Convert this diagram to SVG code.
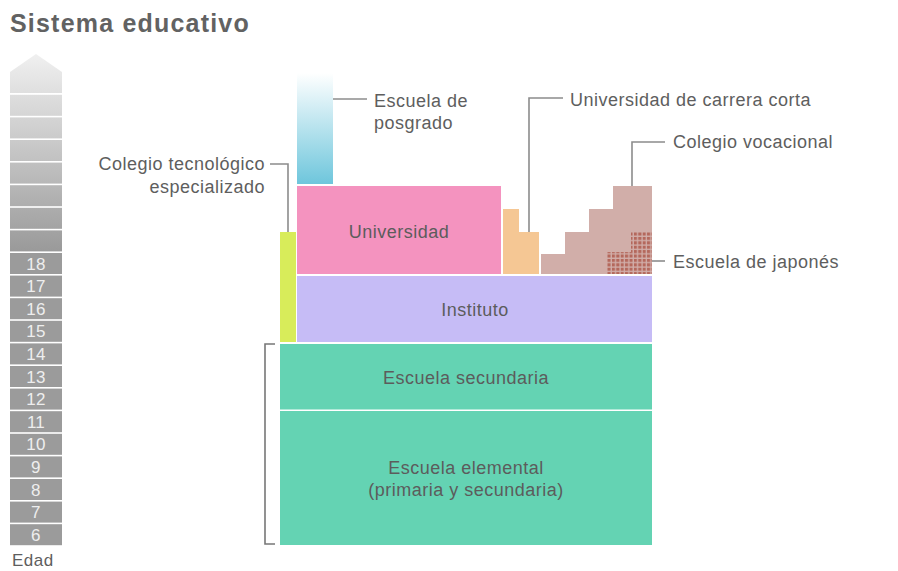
<svg xmlns="http://www.w3.org/2000/svg" width="898" height="571" viewBox="0 0 898 571">
<defs>
<style>
text{font-family:"Liberation Sans",Arial,sans-serif;}
.lbl{font-size:18px;fill:#5e5e5e;letter-spacing:0.5px;}
.blk{font-size:18px;fill:#5c5c5c;letter-spacing:0.5px;text-anchor:middle;}
.age{font-size:17px;fill:#eeeeee;text-anchor:middle;letter-spacing:0.3px;}
.row{fill:#9b9b9b;}
.lead{fill:none;stroke:#8c8c8c;stroke-width:1.6;}
</style>
<linearGradient id="fade" gradientUnits="userSpaceOnUse" x1="0" y1="54" x2="0" y2="253">
<stop offset="0" stop-color="#f0f0f0"/>
<stop offset="1" stop-color="#999999"/>
</linearGradient>
<linearGradient id="pos" x1="0" y1="0" x2="0" y2="1">
<stop offset="0" stop-color="#ffffff"/>
<stop offset="1" stop-color="#6ec6dc"/>
</linearGradient>
<pattern id="jp" patternUnits="userSpaceOnUse" x="607.5" y="232.5" width="4.4" height="4.4">
<rect x="0" y="0" width="3.1" height="3.1" fill="#b4685c"/>
</pattern>
</defs>
<rect width="898" height="571" fill="#ffffff"/>
<text x="10" y="32" font-size="25" font-weight="bold" fill="#626262" letter-spacing="1.2">Sistema educativo</text>

<g id="age-scale">
<polygon points="10,93 10,72 36,54 62,72 62,93" fill="url(#fade)"/>
<rect x="10" y="94.8" width="52" height="21" fill="url(#fade)"/>
<rect x="10" y="117.4" width="52" height="21" fill="url(#fade)"/>
<rect x="10" y="140" width="52" height="21" fill="url(#fade)"/>
<rect x="10" y="162.6" width="52" height="21" fill="url(#fade)"/>
<rect x="10" y="185.2" width="52" height="21" fill="url(#fade)"/>
<rect x="10" y="207.8" width="52" height="21" fill="url(#fade)"/>
<rect x="10" y="230.4" width="52" height="21" fill="url(#fade)"/>
<rect class="row" x="10" y="253" width="52" height="21"/>
<rect class="row" x="10" y="275.6" width="52" height="21"/>
<rect class="row" x="10" y="298.2" width="52" height="21"/>
<rect class="row" x="10" y="320.8" width="52" height="21"/>
<rect class="row" x="10" y="343.4" width="52" height="21"/>
<rect class="row" x="10" y="366" width="52" height="21"/>
<rect class="row" x="10" y="388.6" width="52" height="21"/>
<rect class="row" x="10" y="411.2" width="52" height="21"/>
<rect class="row" x="10" y="433.8" width="52" height="21"/>
<rect class="row" x="10" y="456.4" width="52" height="21"/>
<rect class="row" x="10" y="479" width="52" height="21"/>
<rect class="row" x="10" y="501.6" width="52" height="21"/>
<rect class="row" x="10" y="524.2" width="52" height="21"/>
<text class="age" x="36" y="269.5">18</text>
<text class="age" x="36" y="292.1">17</text>
<text class="age" x="36" y="314.7">16</text>
<text class="age" x="36" y="337.3">15</text>
<text class="age" x="36" y="359.9">14</text>
<text class="age" x="36" y="382.5">13</text>
<text class="age" x="36" y="405.1">12</text>
<text class="age" x="36" y="427.7">11</text>
<text class="age" x="36" y="450.3">10</text>
<text class="age" x="36" y="472.9">9</text>
<text class="age" x="36" y="495.5">8</text>
<text class="age" x="36" y="518.1">7</text>
<text class="age" x="36" y="540.7">6</text>
<text x="12" y="566" font-size="17" fill="#5e5e5e" letter-spacing="0.5">Edad</text>
</g>

<g id="connectors">
<polyline class="lead" points="333,99 367,99"/>
<polyline class="lead" points="270,164 288,164 288,232"/>
<polyline class="lead" points="563,98 529,98 529,232"/>
<polyline class="lead" points="665,142 632,142 632,186"/>
<polyline class="lead" points="650,261 665,261"/>
<polyline points="275,344 265,344 265,544 275,544" fill="none" stroke="#777777" stroke-width="1.6"/>
</g>

<g id="escuela-elemental">
<rect x="280" y="411" width="372" height="134" fill="#64d3b3"/>
<text class="blk" x="466" y="474">Escuela elemental</text>
<text class="blk" x="466" y="496">(primaria y secundaria)</text>
</g>
<g id="escuela-secundaria">
<rect x="280" y="344" width="372" height="65.5" fill="#64d3b3"/>
<text class="blk" x="466" y="384">Escuela secundaria</text>
</g>
<g id="instituto">
<rect x="297" y="276" width="355" height="66" fill="#c6bcf6"/>
<text class="blk" x="475" y="316">Instituto</text>
</g>
<g id="colegio-tecnologico">
<rect x="280" y="232" width="16" height="110" fill="#d8ec5a"/>
<text class="lbl" x="265" y="170" text-anchor="end">Colegio tecnológico</text>
<text class="lbl" x="265" y="192.5" text-anchor="end">especializado</text>
</g>
<g id="universidad">
<rect x="297" y="186" width="204" height="88" fill="#f493bf"/>
<text class="blk" x="399" y="238">Universidad</text>
</g>
<g id="escuela-posgrado">
<rect x="297" y="73" width="36" height="111" fill="url(#pos)"/>
<text class="lbl" x="374" y="107">Escuela de</text>
<text class="lbl" x="374" y="129">posgrado</text>
</g>
<g id="universidad-carrera-corta">
<polygon points="503,209 519,209 519,232 539,232 539,274 503,274" fill="#f5c794"/>
<text class="lbl" x="570" y="106">Universidad de carrera corta</text>
</g>
<g id="colegio-vocacional">
<polygon points="541,254 565,254 565,232 589,232 589,209 613,209 613,186 652,186 652,274 541,274" fill="#d1aea9"/>
<text class="lbl" x="673" y="148">Colegio vocacional</text>
</g>
<g id="escuela-japones">
<polygon points="631,232 652,232 652,274 607,274 607,252 631,252" fill="url(#jp)"/>
<text class="lbl" x="673" y="268">Escuela de japonés</text>
</g>
</svg>
